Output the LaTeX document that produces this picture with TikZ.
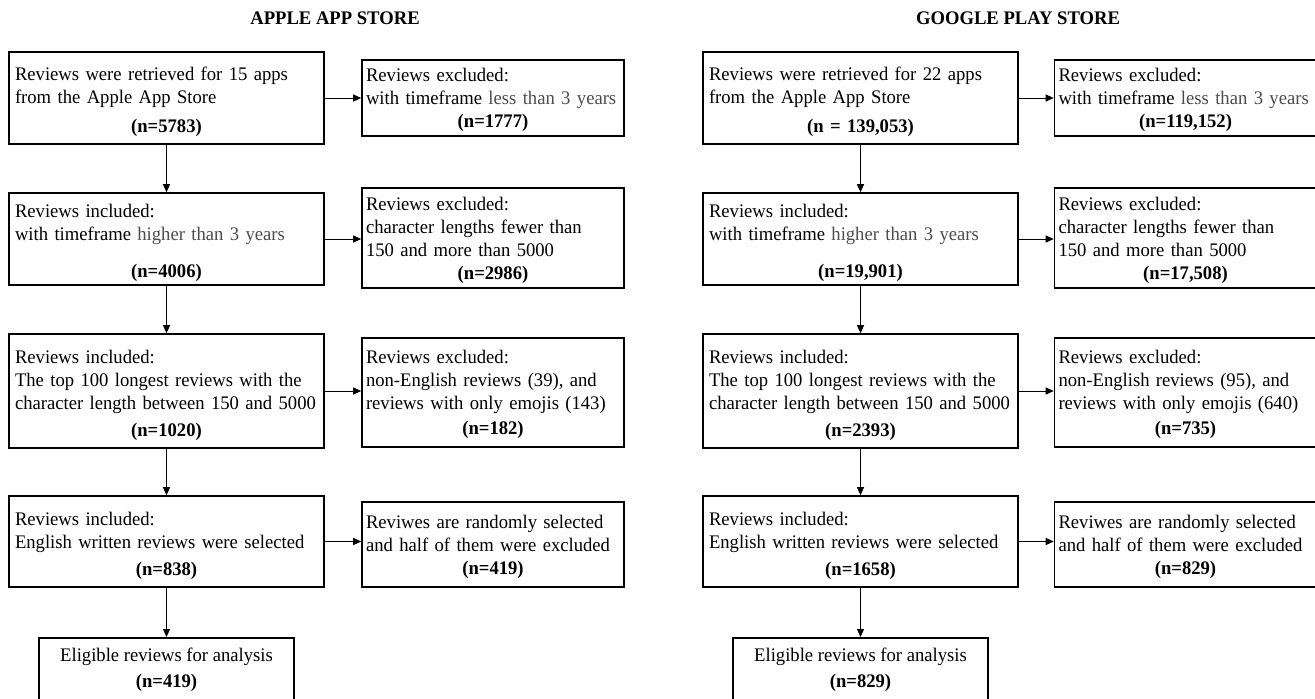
\documentclass[tikz,border=0pt]{standalone}
\usepackage{fontspec}
\setmainfont{Liberation Serif}[FakeStretch=0.97]
\usetikzlibrary{arrows.meta}

\begin{document}
\begin{tikzpicture}[x=0.5pt, y=-0.5pt, font=\fontsize{9.6}{11.5}\selectfont]
      \tikzset{
	  inbox/.style={rectangle, draw=black, line width=0.8pt, text width=151.5pt, inner xsep=3pt, inner ysep=0pt, align=left, execute at end node={\par\kern-4pt}},
	  exbox/.style={rectangle, draw=black, line width=0.8pt, text width=127pt, inner xsep=2pt, inner ysep=0pt, align=left, execute at end node={\par\kern-2pt}},
	  finalbox/.style={rectangle, draw=black, line width=0.8pt, minimum width=127.5pt, minimum height=32pt, align=center, anchor=north},
	  flow/.style={-{Triangle[length=4pt,width=3.5pt]}, line width=0.5pt},
	  storetitle/.style={font=\fontsize{9.6}{11.5}\selectfont\bfseries}
      }
      \def\cnt#1#2{\par\vspace{#1}\noindent\hbox to\hsize{\hfil\textbf{(#2)}\hfil}}
      \def\gr#1{\textcolor{black!70}{#1}}
      \useasboundingbox (0,0) rectangle (1315,698);

      % apple app store
      \node at (335,18) [storetitle] (appletitle) {APPLE APP STORE};
      \node at (166.5,98) [inbox, minimum height=46pt] (a1) {Reviews were retrieved for 15 apps\\from the Apple App Store\cnt{3pt}{n=5783}};
      \node at (493,98) [exbox, minimum height=38pt] (ae1) {Reviews excluded:\\with timeframe \gr{less than 3 years}\cnt{0pt}{n=1777}};
      \node at (166.5,239) [inbox, minimum height=46pt] (a2) {Reviews included:\\with timeframe \gr{higher than 3 years}\cnt{7pt}{n=4006}};
      \node at (493,238) [exbox, minimum height=50pt] (ae2) {Reviews excluded:\\character lengths fewer than\\150 and more than 5000\cnt{0pt}{n=2986}};
      \node at (166.5,391) [inbox, minimum height=57pt] (a3) {Reviews included:\\The top 100 longest reviews with the\\character length between 150 and 5000\cnt{2pt}{n=1020}};
      \node at (493,392.5) [exbox, minimum height=54.5pt] (ae3) {Reviews excluded:\\non-English reviews (39), and\\reviews with only emojis (143)\cnt{1pt}{n=182}};
      \node at (166.5,541.5) [inbox, minimum height=45.5pt] (a4) {Reviews included:\\English written reviews were selected\cnt{2pt}{n=838}};
      \node at (493,544.5) [exbox, minimum height=42.5pt] (ae4) {Reviwes are randomly selected\\and half of them were excluded\cnt{0pt}{n=419}};
      \node at (166.5,637) [finalbox] (a5) {Eligible reviews for analysis\\[1.5pt]\textbf{(n=419)}};

      \draw[flow] (a1) -- (a2);
      \draw[flow] (a2) -- (a3);
      \draw[flow] (a3) -- (a4);
      \draw[flow] (a4) -- (a5);
      \draw[flow] (a1.east) -- (a1.east -| ae1.west);
      \draw[flow] (a2.east) -- (a2.east -| ae2.west);
      \draw[flow] (a3.east) -- (a3.east -| ae3.west);
      \draw[flow] (a4.east) -- (a4.east -| ae4.west);

      % google play store
      \node at (1018,18) [storetitle] (googletitle) {GOOGLE PLAY STORE};
      \node at (860.5,98) [inbox, minimum height=46pt] (g1) {Reviews were retrieved for 22 apps\\from the Apple App Store\cnt{3pt}{n = 139,053}};
      \node at (1185.5,98) [exbox, minimum height=38pt] (ge1) {Reviews excluded:\\with timeframe \gr{less than 3 years}\cnt{0pt}{n=119,152}};
      \node at (860.5,239) [inbox, minimum height=46pt] (g2) {Reviews included:\\with timeframe \gr{higher than 3 years}\cnt{7pt}{n=19,901}};
      \node at (1185.5,238) [exbox, minimum height=50pt] (ge2) {Reviews excluded:\\character lengths fewer than\\150 and more than 5000\cnt{0pt}{n=17,508}};
      \node at (860.5,391) [inbox, minimum height=57pt] (g3) {Reviews included:\\The top 100 longest reviews with the\\character length between 150 and 5000\cnt{2pt}{n=2393}};
      \node at (1185.5,392.5) [exbox, minimum height=54.5pt] (ge3) {Reviews excluded:\\non-English reviews (95), and\\reviews with only emojis (640)\cnt{1pt}{n=735}};
      \node at (860.5,541.5) [inbox, minimum height=45.5pt] (g4) {Reviews included:\\English written reviews were selected\cnt{2pt}{n=1658}};
      \node at (1185.5,544.5) [exbox, minimum height=42.5pt] (ge4) {Reviwes are randomly selected\\and half of them were excluded\cnt{0pt}{n=829}};
      \node at (860.5,637) [finalbox] (g5) {Eligible reviews for analysis\\[1.5pt]\textbf{(n=829)}};

      \draw[flow] (g1) -- (g2);
      \draw[flow] (g2) -- (g3);
      \draw[flow] (g3) -- (g4);
      \draw[flow] (g4) -- (g5);
      \draw[flow] (g1.east) -- (g1.east -| ge1.west);
      \draw[flow] (g2.east) -- (g2.east -| ge2.west);
      \draw[flow] (g3.east) -- (g3.east -| ge3.west);
      \draw[flow] (g4.east) -- (g4.east -| ge4.west);
\end{tikzpicture}
\end{document}
